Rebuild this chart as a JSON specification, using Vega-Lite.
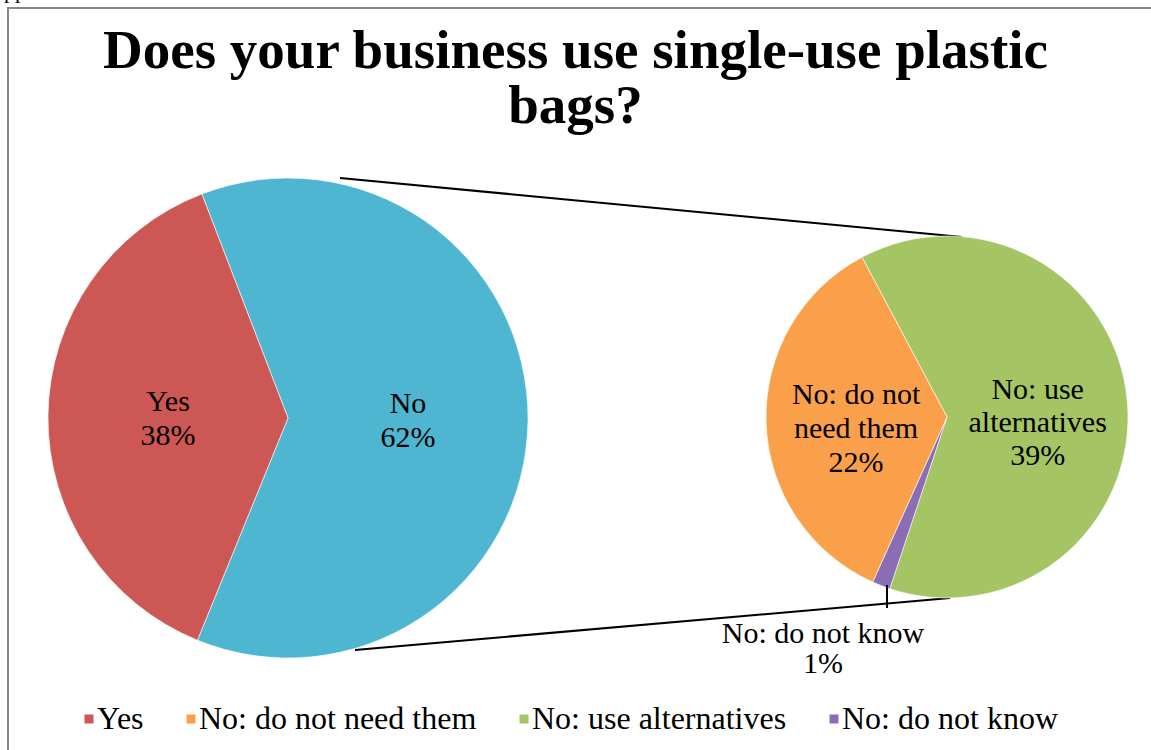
{
  "$schema": "https://vega.github.io/schema/vega-lite/v6.json",
  "width": 1151,
  "height": 750,
  "autosize": {"type": "none"},
  "padding": 0,
  "background": "white",
  "view": {"stroke": null},
  "config": {"font": "Liberation Serif", "text": {"font": "Liberation Serif", "color": "black"}},
  "title": {
    "text": ["Does your business use single-use plastic", "bags?"],
    "font": "Liberation Serif",
    "fontSize": 55,
    "fontWeight": "bold",
    "color": "black",
    "anchor": "middle",
    "offset": -155,
    "lineHeight": 55
  },
  "layer": [
    {
      "data": {"values": [{}]},
      "mark": {"type": "rect", "x": 8, "y": 8, "x2": 1175, "y2": 775, "fill": null, "stroke": "#878787", "strokeWidth": 2},
      "encoding": {}
    },
    {
      "data": {"values": [{}]},
      "mark": {"type": "text", "text": "Appendix", "x": -12, "y": -2, "align": "left", "baseline": "alphabetic", "fontSize": 22},
      "encoding": {}
    },
    {
      "data": {"values": [{}]},
      "mark": {"type": "rule", "stroke": "black", "strokeWidth": 2},
      "encoding": {"x": {"value": 340}, "y": {"value": 178}, "x2": {"value": 962}, "y2": {"value": 237}}
    },
    {
      "data": {"values": [{}]},
      "mark": {"type": "rule", "stroke": "black", "strokeWidth": 2},
      "encoding": {"x": {"value": 355}, "y": {"value": 650}, "x2": {"value": 950}, "y2": {"value": 598}}
    },
    {
      "data": {"values": [
        {"category": "No", "value": 62, "order": 1, "label": "No\n62%"},
        {"category": "Yes", "value": 38, "order": 2, "label": "Yes\n38%"}
      ]},
      "layer": [
        {
          "mark": {"type": "arc", "x": 288, "y": 418, "outerRadius": 240, "stroke": "white", "strokeWidth": 1, "strokeOpacity": 0.6},
          "encoding": {
            "theta": {"field": "value", "type": "quantitative", "stack": true, "scale": {"range": [-0.367, 5.916]}},
            "order": {"field": "order", "type": "quantitative"},
            "color": {
              "field": "category",
              "type": "nominal",
              "scale": {
                "domain": ["Yes", "No", "No: do not need them", "No: use alternatives", "No: do not know"],
                "range": ["#CD5755", "#4EB6D0", "#FAA04A", "#A5C464", "#8A6DB5"]
              },
              "legend": {
                "values": ["Yes", "No: do not need them", "No: use alternatives", "No: do not know"],
                "title": null,
                "orient": "none",
                "legendX": 73,
                "legendY": 703,
                "direction": "horizontal",
                "columns": 4,
                "columnPadding": 31,
                "padding": 0,
                "symbolType": "square",
                "symbolSize": 81,
                "symbolStrokeWidth": 0,
                "labelOffset": -8,
                "labelFont": "Liberation Serif",
                "labelFontSize": 32,
                "labelColor": "black",
                "labelLimit": 500
              }
            }
          }
        },
        {
          "mark": {"type": "text", "x": 288, "y": 418, "radius": 120, "dy": -15, "fontSize": 30, "lineBreak": "\n", "lineHeight": 34, "align": "center", "baseline": "middle"},
          "encoding": {
            "theta": {"field": "value", "type": "quantitative", "stack": true},
            "order": {"field": "order", "type": "quantitative"},
            "detail": {"field": "category"},
            "text": {"field": "label"}
          }
        }
      ]
    },
    {
      "data": {"values": [
        {"category": "No: use alternatives", "value": 39, "order": 1, "label": "No: use\nalternatives\n39%"},
        {"category": "No: do not know", "value": 1, "order": 2, "label": "No: do not know\n1%"},
        {"category": "No: do not need them", "value": 22, "order": 3, "label": "No: do not\nneed them\n22%"}
      ]},
      "layer": [
        {
          "mark": {"type": "arc", "x": 947, "y": 417, "outerRadius": 181, "stroke": "white", "strokeWidth": 1, "strokeOpacity": 0.6},
          "encoding": {
            "theta": {"field": "value", "type": "quantitative", "stack": true, "scale": {"range": [-0.489, 5.794]}},
            "order": {"field": "order", "type": "quantitative"},
            "color": {"field": "category", "type": "nominal"}
          }
        },
        {
          "mark": {"type": "text", "x": 947, "y": 417, "radius": 91, "dy": -19, "fontSize": 30, "lineBreak": "\n", "lineHeight": 33, "align": "center", "baseline": "middle"},
          "encoding": {
            "theta": {"field": "value", "type": "quantitative", "stack": true},
            "order": {"field": "order", "type": "quantitative"},
            "detail": {"field": "category"},
            "text": {"condition": {"test": "datum.category === 'No: use alternatives'", "field": "label"}, "value": ""}
          }
        },
        {
          "mark": {"type": "text", "x": 947, "y": 417, "radius": 91, "dy": -25, "fontSize": 30, "lineBreak": "\n", "lineHeight": 34, "align": "center", "baseline": "middle"},
          "encoding": {
            "theta": {"field": "value", "type": "quantitative", "stack": true},
            "order": {"field": "order", "type": "quantitative"},
            "detail": {"field": "category"},
            "text": {"condition": {"test": "datum.category === 'No: do not need them'", "field": "label"}, "value": ""}
          }
        }
      ]
    },
    {
      "data": {"values": [{}]},
      "mark": {"type": "rule", "stroke": "black", "strokeWidth": 2},
      "encoding": {"x": {"value": 887}, "y": {"value": 585}, "x2": {"value": 887}, "y2": {"value": 608}}
    },
    {
      "data": {"values": [
        {"category": "No: do not know", "label": "No: do not know\n1%"}
      ]},
      "mark": {"type": "text", "x": 823, "y": 634, "fontSize": 30, "lineBreak": "\n", "lineHeight": 30, "align": "center", "baseline": "middle"},
      "encoding": {"text": {"field": "label"}}
    }
  ],
  "resolve": {"scale": {"theta": "independent"}}
}
